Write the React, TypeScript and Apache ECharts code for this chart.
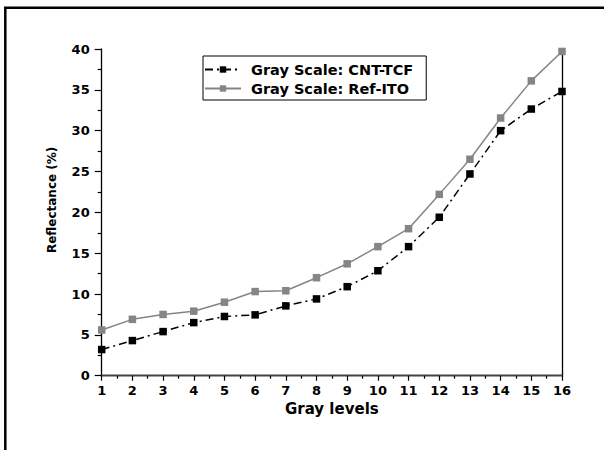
import React, { useEffect, useRef } from "react";
import * as echarts from "echarts";

const grayLevels = [1, 2, 3, 4, 5, 6, 7, 8, 9, 10, 11, 12, 13, 14, 15, 16];
const cntTcf = [3.2, 4.3, 5.4, 6.5, 7.25, 7.45, 8.55, 9.4, 10.9, 12.85, 15.8, 19.4, 24.7, 30.0, 32.65, 34.8];
const refIto = [5.6, 6.9, 7.5, 7.9, 9.0, 10.3, 10.4, 12.0, 13.7, 15.8, 18.0, 22.2, 26.5, 31.55, 36.1, 39.7];
const seriesNames = ["Gray Scale: CNT-TCF", "Gray Scale: Ref-ITO"];
const xAxisTitle = "Gray levels";
const yAxisTitle = "Reflectance (%)";

const FONT = "DejaVu Sans";

export default function App() {
  const ref = useRef<HTMLDivElement>(null);
  useEffect(() => {
    if (!ref.current) return;
    const chart = echarts.init(ref.current, undefined, { renderer: "svg" });
    const toPairs = (ys: number[]) => grayLevels.map((x, i) => [x, ys[i]]);
    chart.setOption({
      animation: false,
      backgroundColor: "#ffffff",
      textStyle: { fontFamily: FONT, fontWeight: "bold", color: "#000" },
      grid: { left: 101.7, right: 42, top: 49, bottom: 74.3, containLabel: false },
      graphic: [
        {
          type: "rect",
          shape: { x: 5.3, y: 7.8, width: 700, height: 600 },
          style: { fill: "none", stroke: "#000", lineWidth: 2.5 },
          silent: true,
        },
      ],
      legend: {
        orient: "vertical",
        left: 203,
        top: 56,
        padding: [6, 13, 4, 1],
        itemGap: 4,
        itemWidth: 36,
        itemHeight: 8,
        borderColor: "#000",
        borderWidth: 1,
        backgroundColor: "#fff",
        textStyle: {
          fontFamily: FONT,
          fontWeight: "bold",
          fontSize: 14.5,
          color: "#000",
          padding: [0, 0, 0, 5],
        },
        data: seriesNames,
      },
      xAxis: [
        {
          type: "value",
          min: 1,
          max: 16,
          interval: 1,
          name: xAxisTitle,
          nameLocation: "middle",
          nameGap: 25,
          nameTextStyle: { fontFamily: FONT, fontWeight: "bold", fontSize: 15, color: "#000" },
          axisLine: { show: true, lineStyle: { color: "#000", width: 1.3 } },
          axisTick: { show: true, inside: false, length: 5, lineStyle: { color: "#000", width: 1.2 } },
          minorTick: { show: true, splitNumber: 2, length: 3, lineStyle: { color: "#000", width: 1.2 } },
          axisLabel: { fontFamily: FONT, fontWeight: "bold", fontSize: 13, color: "#000", margin: 8 },
          splitLine: { show: false },
        },
        {
          type: "value",
          position: "top",
          min: 1,
          max: 16,
          interval: 1,
          axisLine: { show: true, lineStyle: { color: "#444", width: 1.3 } },
          axisTick: { show: false },
          axisLabel: { show: false },
          splitLine: { show: false },
        },
      ],
      yAxis: [
        {
          type: "value",
          min: 0,
          max: 40,
          interval: 5,
          name: yAxisTitle,
          nameLocation: "middle",
          nameGap: 44,
          nameRotate: 90,
          nameTextStyle: {
            fontFamily: FONT,
            fontWeight: "bold",
            fontSize: 12,
            color: "#000",
            padding: [0, 0, 0, 25],
          },
          axisLine: { show: true, lineStyle: { color: "#000", width: 1.3 } },
          axisTick: { show: true, inside: false, length: 7, lineStyle: { color: "#000", width: 1.2 } },
          minorTick: { show: true, splitNumber: 2, length: 4, lineStyle: { color: "#000", width: 1.2 } },
          axisLabel: { fontFamily: FONT, fontWeight: "bold", fontSize: 13, color: "#000", margin: 12 },
          splitLine: { show: false },
        },
        {
          type: "value",
          position: "right",
          min: 0,
          max: 40,
          interval: 5,
          axisLine: { show: true, lineStyle: { color: "#000", width: 1.3 } },
          axisTick: { show: false },
          axisLabel: { show: false },
          splitLine: { show: false },
        },
      ],
      series: [
        {
          name: seriesNames[1],
          type: "line",
          data: toPairs(refIto),
          symbol: "rect",
          symbolSize: 7.5,
          color: "#858585",
          itemStyle: { color: "#858585" },
          lineStyle: { color: "#858585", width: 1.5, type: "solid" },
          z: 2,
        },
        {
          name: seriesNames[0],
          type: "line",
          data: toPairs(cntTcf),
          symbol: "rect",
          symbolSize: 7.5,
          color: "#000",
          itemStyle: { color: "#000" },
          lineStyle: { color: "#000", width: 1.5, type: [8, 4, 2, 4] },
          z: 3,
        },
      ],
    });
    return () => chart.dispose();
  }, []);
  return (
    <div
      ref={ref}
      style={{ position: "fixed", left: 0, top: 0, width: 604, height: 450, background: "#fff" }}
    />
  );
}
